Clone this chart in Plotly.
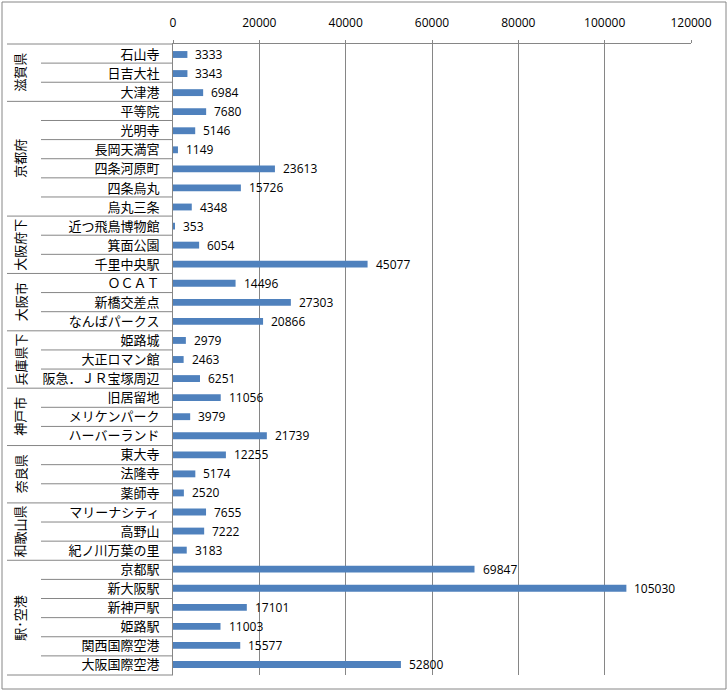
import plotly.graph_objects as go

groups = ["滋賀県", "京都府", "大阪府下", "大阪市", "兵庫県下", "神戸市", "奈良県", "和歌山県", "駅･空港"]
group_sizes = [3, 6, 3, 3, 3, 3, 3, 3, 6]
categories = [
    "石山寺", "日吉大社", "大津港",
    "平等院", "光明寺", "長岡天満宮", "四条河原町", "四条烏丸", "烏丸三条",
    "近つ飛鳥博物館", "箕面公園", "千里中央駅",
    "ＯＣＡＴ", "新橋交差点", "なんばパークス",
    "姫路城", "大正ロマン館", "阪急．ＪＲ宝塚周辺",
    "旧居留地", "メリケンパーク", "ハーバーランド",
    "東大寺", "法隆寺", "薬師寺",
    "マリーナシティ", "高野山", "紀ノ川万葉の里",
    "京都駅", "新大阪駅", "新神戸駅", "姫路駅", "関西国際空港", "大阪国際空港",
]
values = [
    3333, 3343, 6984,
    7680, 5146, 1149, 23613, 15726, 4348,
    353, 6054, 45077,
    14496, 27303, 20866,
    2979, 2463, 6251,
    11056, 3979, 21739,
    12255, 5174, 2520,
    7655, 7222, 3183,
    69847, 105030, 17101, 11003, 15577, 52800,
]
x_ticks = [0, 20000, 40000, 60000, 80000, 100000, 120000]

W, H = 728, 691
L, R, T, B = 173, 37, 44, 16
pw = W - L - R
ph = H - T - B
GRAY = "#868686"
n = len(categories)

def px_x(p):
    return (p - L) / pw

def px_y(p):
    return 1 - (p - T) / ph

fig = go.Figure()
fig.add_trace(go.Bar(
    x=values, y=categories, orientation="h",
    marker=dict(color="#4F81BD", line=dict(width=0)),
    width=0.36, hoverinfo="x+y",
))

annotations = []
for c, v in zip(categories, values):
    annotations.append(dict(
        x=v, y=c, xref="x", yref="y", text=str(v), showarrow=False,
        xanchor="left", yanchor="middle", xshift=6,
        font=dict(family="Open Sans", size=12, color="#000000"),
    ))

shapes = []
start = 0
for g, size in zip(groups, group_sizes):
    yp = 1 - start / n
    shapes.append(dict(type="line", xref="paper", yref="paper",
                       x0=px_x(7), x1=0, y0=yp, y1=yp,
                       line=dict(color=GRAY, width=1)))
    for k in range(1, size):
        yk = 1 - (start + k) / n
        shapes.append(dict(type="line", xref="paper", yref="paper",
                           x0=px_x(41), x1=0, y0=yk, y1=yk,
                           line=dict(color=GRAY, width=1)))
    yc = 1 - (start + size / 2) / n
    annotations.append(dict(
        x=px_x(20), y=yc, xref="paper", yref="paper", text=g,
        showarrow=False, textangle=-90, xanchor="center", yanchor="middle",
        font=dict(family="Noto Sans CJK JP", size=13, color="#000000"),
    ))
    start += size
shapes.append(dict(type="line", xref="paper", yref="paper",
                   x0=px_x(7), x1=0, y0=0, y1=0,
                   line=dict(color=GRAY, width=1)))
shapes.append(dict(type="rect", xref="paper", yref="paper",
                   x0=px_x(2), x1=px_x(726), y0=px_y(2), y1=px_y(689),
                   line=dict(color=GRAY, width=1), fillcolor="rgba(0,0,0,0)"))

fig.update_layout(
    width=W, height=H,
    margin=dict(l=L, r=R, t=T, b=B, pad=0),
    paper_bgcolor="white", plot_bgcolor="white",
    showlegend=False, bargap=0.64,
    shapes=shapes, annotations=annotations,
    xaxis=dict(
        side="top", range=[0, 120000], tickvals=x_ticks,
        ticktext=[str(t) for t in x_ticks],
        showgrid=True, gridcolor=GRAY, gridwidth=1,
        showline=True, linecolor=GRAY, linewidth=1,
        ticks="outside", ticklen=3, tickcolor=GRAY,
        ticklabelstandoff=8,
        tickfont=dict(family="Open Sans", size=12, color="#000000"),
        zeroline=False, fixedrange=True,
    ),
    yaxis=dict(
        type="category", categoryorder="array", categoryarray=categories,
        autorange="reversed",
        showgrid=False, showline=True, linecolor=GRAY, linewidth=1,
        ticks="", ticklabelstandoff=10,
        tickfont=dict(family="Noto Sans CJK JP", size=13, color="#000000"),
        fixedrange=True,
    ),
)

fig.write_html(
    "out.html",
    config={"displayModeBar": False},
    post_script="document.body.style.margin='0';document.body.style.overflow='hidden';",
)
